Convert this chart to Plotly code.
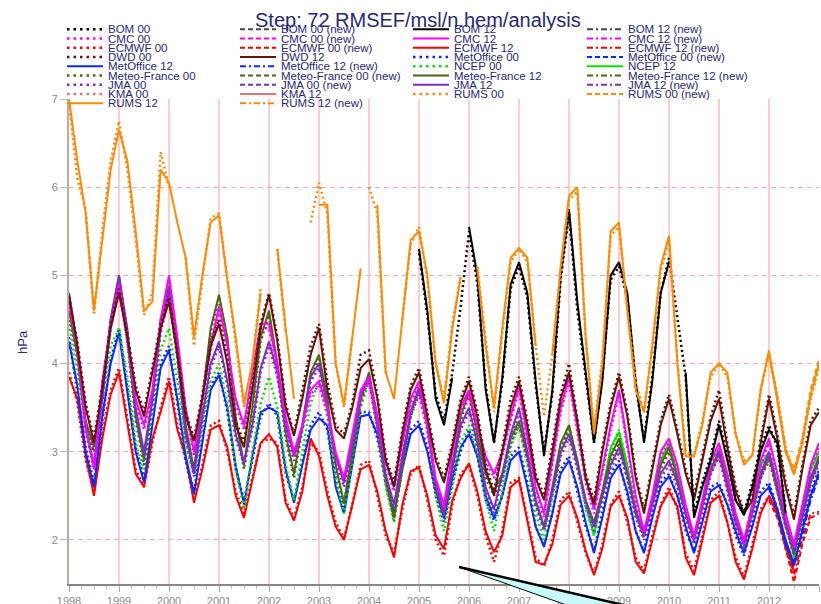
import plotly.graph_objects as go

# ---------------- data: bimonthly samples (Jan, Mar, May, Jul, Sep, Nov), Jan 1998 .. Jan 2013 ----------------
N = 91
times = [1998 + i / 6 for i in range(N)]
year_ticks = list(range(1998, 2014))
year_labels = [str(y) for y in year_ticks]
y_ticks = [2, 3, 4, 5, 6, 7]

ECMWF_12 = [
    3.85, 3.6, 2.95, 2.5, 3.15, 3.65,
    3.9, 3.3, 2.75, 2.6, 3.15, 3.45,
    3.8, 3.25, 2.95, 2.42, 2.8, 3.25,
    3.3, 3.05, 2.5, 2.25, 2.66, 3.1,
    3.2, 3.05, 2.42, 2.22, 2.55, 3.15,
    2.95, 2.5, 2.15, 2.0, 2.4, 2.8,
    2.85, 2.55, 2.1, 1.8, 2.4, 2.78,
    2.82, 2.5, 2.05, 1.9, 2.45, 2.7,
    2.87, 2.55, 2.1, 1.86, 2.05, 2.6,
    2.68, 2.2, 1.75, 1.72, 1.95, 2.4,
    2.5, 2.25, 1.88, 1.6, 1.9, 2.38,
    2.5, 2.25, 1.75, 1.62, 2.0, 2.38,
    2.55, 2.38, 1.8, 1.6, 2.0, 2.42,
    2.5, 2.2, 1.75, 1.55, 1.9, 2.3,
    2.5, 2.3, 1.95, 1.64, None, None,
    None]
ECMWF_00 = [
    3.9, 3.55, 2.9, 2.55, 3.2, 3.7,
    3.95, 3.35, 2.8, 2.6, 3.1, 3.5,
    3.85, 3.3, 2.9, 2.45, 2.85, 3.3,
    3.35, 3.0, 2.55, 2.3, 2.7, 3.1,
    3.15, 3.1, 2.45, 2.25, 2.6, 3.1,
    3.0, 2.55, 2.2, 2.02, 2.4, 2.85,
    2.9, 2.5, 2.05, 1.85, 2.35, 2.75,
    2.85, 2.45, 2.0, 1.82, 2.4, 2.75,
    2.85, 2.5, 2.05, 1.75, 2.1, 2.65,
    2.7, 2.25, 1.8, 1.7, 2.0, 2.45,
    2.55, 2.2, 1.85, 1.62, 1.95, 2.4,
    2.55, 2.2, 1.8, 1.65, 2.05, 2.4,
    2.6, 2.35, 1.85, 1.65, 2.05, 2.45,
    2.55, 2.2, 1.8, 1.58, 1.95, 2.35,
    2.5, 2.3, 1.9, 1.65, None, None,
    None]
ECMWF_00_NEW = [None] * 84 + [2.45, 2.25, 1.9, 1.52, 1.95, 2.25, 2.3]
ECMWF_12_NEW = [None] * 84 + [2.5, 2.28, 1.92, 1.6, 2.0, 2.3, 2.32]

MO_12 = [
    4.25, 3.75, 3.0, 2.6, 3.4, 4.0,
    4.35, 3.7, 3.0, 2.65, 3.3, 3.95,
    4.15, 3.6, 2.95, 2.52, 3.1, 3.7,
    3.87, 3.5, 2.85, 2.4, 2.95, 3.45,
    3.5, 3.45, 2.8, 2.42, 2.85, 3.25,
    3.38, 3.3, 2.6, 2.3, 2.85, 3.4,
    3.42, 3.2, 2.7, 2.28, 2.8, 3.2,
    3.3, 3.0, 2.55, 2.25, 2.7, 3.05,
    3.2, 2.95, 2.5, 2.25, 2.5, 2.9,
    3.0, 2.6, 2.15, 1.92, 2.3, 2.75,
    2.9, 2.6, 2.2, 1.85, 2.25, 2.7,
    2.85, 2.55, 2.1, 1.85, 2.25, 2.6,
    2.72, 2.5, 2.15, 1.85, 2.2, 2.55,
    2.62, 2.4, 2.1, 1.85, 2.15, 2.5,
    2.6, 2.35, 2.0, 1.72, 2.1, 2.5,
    2.75]
MO_00 = [
    4.3, 3.7, 3.05, 2.65, 3.35, 4.05,
    4.4, 3.75, 3.05, 2.7, 3.35, 4.0,
    4.2, 3.55, 2.9, 2.55, 3.15, 3.75,
    3.9, 3.45, 2.8, 2.45, 2.9, 3.4,
    3.55, 3.4, 2.75, 2.45, 2.9, 3.3,
    3.45, 3.25, 2.65, 2.32, 2.9, 3.45,
    3.45, 3.15, 2.65, 2.3, 2.85, 3.25,
    3.35, 3.05, 2.5, 2.2, 2.65, 3.0,
    3.25, 2.95, 2.45, 2.22, 2.5, 2.95,
    3.05, 2.65, 2.15, 1.95, 2.3, 2.8,
    2.95, 2.55, 2.15, 1.88, 2.3, 2.75,
    2.9, 2.5, 2.1, 1.88, 2.3, 2.65,
    2.75, 2.5, 2.1, 1.88, 2.25, 2.6,
    2.65, 2.4, 2.05, 1.82, 2.2, 2.55,
    2.65, 2.35, 1.95, 1.75, 2.15, 2.55,
    2.8]
MO_00_NEW = [None] * 84 + [2.62, 2.35, 1.98, 1.7, 2.12, 2.5, 2.78]
MO_12_NEW = [None] * 84 + [2.58, 2.32, 1.95, 1.72, 2.05, 2.45, 2.72]

NCEP_00 = [
    4.45, 3.9, 3.3, 3.0, 3.6, 4.2,
    4.4, 3.85, 3.1, 2.8, 3.5, 4.15,
    4.4, 3.8, 3.05, 2.75, 3.3, 3.8,
    4.0, 3.55, 2.8, 2.35, 3.0, 3.55,
    3.85, 3.5, 2.85, 2.45, 3.0, 3.55,
    3.8, 3.4, 2.7, 2.3, 2.9, 3.5,
    3.8, 3.3, 2.6, 2.2, 2.85, 3.45,
    3.75, 3.3, 2.5, 2.1, 2.6, 3.1,
    3.3, 3.0, 2.45, 2.1, 2.55, 3.05,
    3.3, 2.85, 2.3, 2.0, 2.5, 3.0,
    3.3, 2.9, 2.35, 2.05, 2.5, 3.0,
    3.25, 2.85, 2.35, 2.05, 2.45, 2.85,
    3.05, 2.75, 2.3, 2.0, 2.4, 2.85,
    3.0, 2.7, 2.25, 1.95, 2.35, 2.8,
    3.0, 2.65, 2.2, 1.8, 2.3, 2.8,
    3.0]
NCEP_12 = [None] * 62 + [
    2.4, 2.05, 2.55, 3.05,
    3.22, 2.85, 2.3, 2.05, 2.45, 2.9,
    3.1, 2.75, 2.3, 2.0, 2.45, 2.9,
    3.02, 2.75, 2.25, 1.98, 2.4, 2.85,
    3.0, 2.65, 2.2, 1.82, 2.35, 2.8,
    3.0]

DWD_12 = [
    4.78, 4.2, 3.5, 3.1, 3.7, 4.4,
    4.8, 4.3, 3.7, 3.4, 3.9, 4.4,
    4.7, 4.1, 3.4, 3.12, 3.6, 4.2,
    4.45, 4.0, 3.3, 3.05, 3.7, 4.4,
    4.78, 4.25, 3.5, 3.18, 3.6, 4.1,
    4.4, 3.7, 3.25, 3.15, 3.5, 3.95,
    4.05, 3.6, 2.9, 2.6, 3.2, 3.7,
    3.9, 3.4, 2.9, 2.65, 3.05, 3.55,
    3.8, 3.4, 2.8, 2.5, 3.0, 3.5,
    3.8, 3.3, 2.7, 2.45, 3.0, 3.6,
    3.9, 3.35, 2.7, 2.4, 3.0, 3.5,
    3.85, 3.4, 2.7, 2.3, 2.8, 3.3,
    3.6, 3.2, 2.75, 2.45, 2.9, 3.35,
    3.6, 3.05, 2.55, 2.3, 2.45, 3.1,
    3.6, 3.15, 2.6, 2.23, 2.8, 3.3,
    3.45]
DWD_00 = [
    4.75, 4.25, 3.55, 3.15, 3.75, 4.45,
    4.85, 4.35, 3.75, 3.45, 3.95, 4.45,
    4.75, 4.15, 3.45, 3.15, 3.65, 4.25,
    4.5, 4.05, 3.35, 3.1, 3.75, 4.45,
    4.8, 4.3, 3.55, 3.2, 3.7, 4.2,
    4.45, 3.8, 3.3, 3.2, 3.55, 4.1,
    4.15, 3.65, 2.95, 2.65, 3.25, 3.75,
    3.95, 3.45, 2.95, 2.7, 3.1, 3.6,
    3.85, 3.45, 2.85, 2.55, 3.05, 3.6,
    3.85, 3.35, 2.75, 2.5, 3.05, 3.65,
    4.0, 3.4, 2.75, 2.45, 3.05, 3.55,
    3.9, 3.45, 2.75, 2.35, 2.85, 3.35,
    3.65, 3.25, 2.8, 2.5, 2.95, 3.4,
    3.7, 3.1, 2.6, 2.32, 2.5, 3.15,
    3.65, 3.2, 2.65, 2.28, 2.85, 3.35,
    3.5]

MF_12 = [
    4.6, 4.1, 3.35, 3.05, 3.7, 4.5,
    5.0, 4.3, 3.4, 2.9, 3.6, 4.5,
    4.88, 4.2, 3.3, 2.8, 3.6, 4.4,
    4.78, 4.3, 3.4, 2.85, 3.5, 4.3,
    4.6, 4.0, 3.2, 2.75, 3.3, 3.9,
    4.1, 3.6, 2.85, 2.42, 3.0, 3.6,
    3.9, 3.4, 2.7, 2.25, 2.85, 3.45,
    3.72, 3.35, 2.65, 2.3, 2.85, 3.4,
    3.68, 3.2, 2.75, 2.55, 2.75, 3.15,
    3.35, 2.95, 2.45, 2.15, 2.6, 3.1,
    3.3, 2.9, 2.45, 2.2, 2.55, 2.95,
    3.15, 2.75, 2.35, 2.05, 2.45, 2.85,
    3.05, 2.7, 2.3, 2.0, 2.4, 2.8,
    3.0, 2.65, 2.25, 1.95, 2.35, 2.75,
    2.95, 2.6, 2.2, 1.85, 2.3, 2.7,
    2.95]
MF_00 = [
    4.55, 4.05, 3.3, 3.0, 3.65, 4.45,
    4.95, 4.25, 3.35, 2.85, 3.55, 4.45,
    4.85, 4.15, 3.25, 2.75, 3.55, 4.35,
    4.75, 4.25, 3.35, 2.8, 3.45, 4.25,
    4.55, 3.95, 3.15, 2.7, 3.25, 3.85,
    4.05, 3.55, 2.8, 2.4, 2.95, 3.55,
    3.85, 3.35, 2.65, 2.22, 2.8, 3.4,
    3.7, 3.3, 2.6, 2.28, 2.8, 3.35,
    3.65, 3.15, 2.7, 2.5, 2.7, 3.1,
    3.3, 2.9, 2.4, 2.12, 2.55, 3.05,
    3.25, 2.85, 2.4, 2.15, 2.5, 2.9,
    3.1, 2.7, 2.3, 2.02, 2.4, 2.8,
    3.0, 2.65, 2.25, 1.98, 2.35, 2.75,
    2.95, 2.6, 2.2, 1.92, 2.3, 2.7,
    2.9, 2.55, 2.15, 1.82, 2.25, 2.65,
    2.9]

JMA_12 = [
    4.8, 4.2, 3.3, 2.85, 3.6, 4.5,
    5.0, 4.4, 3.5, 3.0, 3.6, 4.4,
    4.83, 4.1, 3.2, 2.75, 3.4, 4.0,
    4.25, 3.8, 3.2, 2.88, 3.3, 3.95,
    4.25, 3.9, 3.3, 2.95, 3.3, 3.85,
    4.0, 3.5, 2.95, 2.65, 3.1, 3.65,
    3.85, 3.3, 2.75, 2.4, 2.95, 3.45,
    3.72, 3.3, 2.65, 2.3, 2.8, 3.3,
    3.5, 3.1, 2.6, 2.35, 2.75, 3.2,
    3.5, 3.0, 2.45, 2.15, 2.55, 3.0,
    3.2, 2.85, 2.45, 2.15, 2.5, 2.85,
    3.05, 2.75, 2.3, 2.05, 2.4, 2.75,
    2.9, 2.65, 2.3, 2.0, 2.4, 2.8,
    3.0, 2.6, 2.2, 1.95, 2.35, 2.75,
    3.0, 2.6, 2.2, 1.9, 2.3, 2.7,
    2.9]
JMA_00 = [
    4.75, 4.15, 3.25, 2.8, 3.55, 4.45,
    4.9, 4.35, 3.45, 2.95, 3.55, 4.35,
    4.75, 4.05, 3.15, 2.72, 3.35, 3.95,
    4.2, 3.75, 3.15, 2.85, 3.25, 3.9,
    4.2, 3.85, 3.25, 2.9, 3.25, 3.8,
    3.95, 3.45, 2.9, 2.6, 3.05, 3.6,
    3.8, 3.25, 2.7, 2.35, 2.9, 3.4,
    3.65, 3.25, 2.6, 2.25, 2.75, 3.25,
    3.45, 3.05, 2.55, 2.3, 2.7, 3.15,
    3.45, 2.95, 2.4, 2.1, 2.5, 2.95,
    3.15, 2.8, 2.4, 2.1, 2.45, 2.8,
    3.0, 2.7, 2.25, 2.0, 2.35, 2.7,
    2.85, 2.6, 2.25, 1.95, 2.35, 2.75,
    2.95, 2.55, 2.15, 1.9, 2.3, 2.7,
    2.95, 2.55, 2.15, 1.85, 2.25, 2.65,
    2.85]

CMC_12 = [
    4.7, 4.2, 3.3, 2.8, 3.8, 4.45,
    4.9, 4.3, 3.6, 3.3, 3.7, 4.5,
    5.0, 4.3, 3.5, 3.0, 3.6, 4.2,
    4.65, 4.2, 3.6, 3.3, 3.9, 4.45,
    4.45, 4.0, 3.4, 3.0, 3.3, 3.7,
    3.8, 3.5, 3.0, 2.7, 3.2, 3.7,
    3.85, 3.4, 2.9, 2.6, 3.1, 3.6,
    3.8, 3.3, 2.7, 2.4, 3.0, 3.5,
    3.7, 3.3, 2.95, 2.75, 3.0, 3.4,
    3.75, 3.2, 2.6, 2.3, 2.9, 3.5,
    3.85, 3.3, 2.7, 2.35, 2.8, 3.3,
    3.7, 3.1, 2.5, 2.1, 2.5, 3.0,
    3.15, 2.85, 2.4, 2.05, 2.45, 2.9,
    3.1, 2.75, 2.3, 2.0, 2.4, 2.9,
    3.15, 2.75, 2.3, 1.95, 2.4, 2.85,
    3.1]
CMC_00 = [
    4.65, 4.15, 3.25, 2.85, 3.75, 4.4,
    4.85, 4.25, 3.55, 3.25, 3.65, 4.45,
    4.95, 4.25, 3.45, 2.95, 3.55, 4.15,
    4.6, 4.15, 3.55, 3.25, 3.85, 4.4,
    4.4, 3.95, 3.35, 2.95, 3.25, 3.65,
    3.75, 3.45, 2.95, 2.65, 3.15, 3.65,
    3.8, 3.35, 2.85, 2.55, 3.05, 3.55,
    3.75, 3.25, 2.65, 2.35, 2.95, 3.45,
    3.65, 3.25, 2.9, 2.7, 2.95, 3.35,
    3.7, 3.15, 2.55, 2.25, 2.85, 3.45,
    3.8, 3.25, 2.65, 2.3, 2.75, 3.25,
    3.65, 3.05, 2.45, 2.05, 2.45, 2.95,
    3.1, 2.8, 2.35, 2.0, 2.4, 2.85,
    3.05, 2.7, 2.25, 1.95, 2.35, 2.85,
    3.1, 2.7, 2.25, 1.9, 2.35, 2.8,
    3.05]

KMA_12 = [None] * 75 + [2.0, 2.35, 2.75,
                        2.95, 2.6, 2.2, 1.95, 2.3, 2.7,
                        2.95, 2.55, 2.15, 1.9, 2.25, 2.65,
                        2.9]
KMA_00 = [None] * 75 + [2.02, 2.38, 2.8,
                        3.0, 2.62, 2.22, 1.98, 2.32, 2.72,
                        2.98, 2.58, 2.18, 1.92, 2.28, 2.7,
                        2.92]

BOM_12 = [None] * 42 + [
    5.3, 4.6, 3.6, 3.3, 3.84, None,
    5.55, 5.0, 3.7, 3.1, 3.84, 4.9,
    5.15, 4.8, 3.8, 2.95, 3.7, 5.0,
    5.75, 4.7, 3.9, 3.1, 3.8, 5.0,
    5.15, 4.8, 3.8, 3.1, 3.8, 4.8,
    5.15, None, 3.9, 2.25, 2.6, 2.9,
    3.3, 2.9, 2.45, 2.28, 2.6, 3.0,
    3.25, 3.1, 2.3, None, None, None,
    None]
BOM_00 = [None] * 42 + [
    5.25, 4.55, 3.65, 3.35, 3.9, 4.65,
    5.5, 4.9, 3.75, 3.1, 3.8, 4.85,
    5.1, 4.75, 3.75, 3.0, 3.65, 4.95,
    5.7, 4.6, 3.85, 3.1, 3.85, 4.95,
    5.1, 4.75, 3.75, 3.15, 3.85, 4.8,
    5.2, 4.55, 3.85, 2.3, 2.65, 2.95,
    3.35, 2.95, 2.45, 2.3, 2.65, 3.05,
    3.3, 3.05, 2.35, None, None, None,
    None]

RUMS_12 = [
    7.0, 6.3, 5.7, 4.6, 5.4, 6.2,
    6.65, 6.3, 5.5, 4.6, 4.7, 6.2,
    6.05, 5.6, 5.2, 4.3, 5.0, 5.6,
    5.68, 4.95, 4.3, 3.55, 4.0, 4.8,
    None, 5.3, 4.4, 3.6, None, None,
    5.8, 5.8, 4.0, 3.53, 4.3, 5.08,
    None, 5.8, 3.9, 3.6, 4.52, 5.4,
    5.5, 5.0, 4.0, 3.55, 4.4, 4.98,
    None, 5.09, 4.2, 3.5, 4.4, 5.2,
    5.31, 5.2, 4.2, None, 4.1, 5.1,
    5.9, 6.0, 4.3, 3.2, 4.0, 5.5,
    5.6, 4.6, 3.7, 3.45, 4.2, 5.1,
    5.45, 4.02, 2.95, 2.95, 3.3, 3.9,
    4.0, 3.9, 3.2, 2.85, 2.96, 3.7,
    4.15, 3.6, 3.0, 2.74, 3.1, 3.65,
    4.0]
RUMS_00 = [
    6.95, 6.1, 5.75, 4.55, 5.5, 6.3,
    6.75, 6.2, 5.4, 4.55, 4.8, 6.4,
    6.0, None, 5.2, 4.2, 4.95, 5.65,
    5.7, 4.95, 4.25, 3.5, 4.0, 4.85,
    None, 5.3, 4.35, None, None, 5.6,
    6.05, 5.7, 4.0, 3.5, 4.3, None,
    6.0, 5.7, 3.9, None, 4.5, 5.35,
    5.55, 4.95, 4.0, 3.6, 4.45, 5.0,
    None, 5.1, 4.25, 3.45, 4.35, 5.15,
    5.3, 5.15, 4.2, 3.4, 4.1, 5.05,
    5.85, 5.95, 4.3, 3.25, 4.05, 5.45,
    5.55, 4.6, 3.8, 3.45, 4.2, 5.05,
    5.4, 4.05, 3.0, 2.95, 3.35, 3.85,
    4.0, 3.85, 3.2, 2.9, 2.95, 3.7,
    4.1, 3.65, 3.05, 2.75, 3.1, 3.6,
    3.95]
RUMS_00_NEW = [None] * 84 + [4.1, 3.6, 3.0, 2.8, 3.15, 3.7, 4.05]
RUMS_12_NEW = [None] * 84 + [4.12, 3.62, 3.02, 2.78, 3.12, 3.62, 3.98]

# ---------------- styles ----------------
C_BOM, C_BOMN = "#000000", "#454545"
C_CMC = "#ff00ff"
C_EC = "#ff0000"
C_DWD = "#661405"
C_MO = "#0a28ff"
C_NCEP = "#00e600"
C_MF = "#4d6614"
C_JMA = "#7a2ec4"
C_KMA = "#e8707a"
C_RUMS = "#ff8a00"
NAVY = "#27277a"

DOT = "2px,3px"
DASH = "5px,3px"
DASHDOT = "6px,3px,2px,3px"

plotted = [
    ("ECMWF 00", ECMWF_00, C_EC, DOT, 2.5),
    ("ECMWF 12", ECMWF_12, C_EC, "solid", 2),
    ("ECMWF 00 (new)", ECMWF_00_NEW, C_EC, DASH, 2),
    ("ECMWF 12 (new)", ECMWF_12_NEW, C_EC, DASHDOT, 2),
    ("MetOffice 00", MO_00, C_MO, DOT, 2.5),
    ("MetOffice 12", MO_12, C_MO, "solid", 2),
    ("MetOffice 00 (new)", MO_00_NEW, C_MO, DASH, 2),
    ("MetOffice 12 (new)", MO_12_NEW, C_MO, DASHDOT, 2),
    ("NCEP 00", NCEP_00, C_NCEP, DOT, 2.5),
    ("NCEP 12", NCEP_12, C_NCEP, "solid", 2),
    ("KMA 00", KMA_00, C_KMA, DOT, 2.5),
    ("KMA 12", KMA_12, C_KMA, "solid", 2),
    ("Meteo-France 00", MF_00, C_MF, DOT, 2.5),
    ("Meteo-France 12", MF_12, C_MF, "solid", 2),
    ("JMA 00", JMA_00, C_JMA, DOT, 2.5),
    ("JMA 12", JMA_12, C_JMA, "solid", 2),
    ("CMC 00", CMC_00, C_CMC, DOT, 2.5),
    ("CMC 12", CMC_12, C_CMC, "solid", 2),
    ("DWD 00", DWD_00, C_DWD, DOT, 2.5),
    ("DWD 12", DWD_12, C_DWD, "solid", 2),
    ("BOM 00", BOM_00, C_BOM, DOT, 2.5),
    ("BOM 12", BOM_12, C_BOM, "solid", 2),
    ("RUMS 00", RUMS_00, C_RUMS, DOT, 2.5),
    ("RUMS 12", RUMS_12, C_RUMS, "solid", 2),
    ("RUMS 00 (new)", RUMS_00_NEW, C_RUMS, DASH, 2),
    ("RUMS 12 (new)", RUMS_12_NEW, C_RUMS, DASHDOT, 2),
]

legend_entries = [
    ("BOM 00", C_BOM, "dot"), ("BOM 00 (new)", C_BOMN, "dash"), ("BOM 12", C_BOM, "solid"), ("BOM 12 (new)", C_BOMN, "dashdot"),
    ("CMC 00", C_CMC, "dot"), ("CMC 00 (new)", C_CMC, "dash"), ("CMC 12", C_CMC, "solid"), ("CMC 12 (new)", C_CMC, "dashdot"),
    ("ECMWF 00", C_EC, "dot"), ("ECMWF 00 (new)", C_EC, "dash"), ("ECMWF 12", C_EC, "solid"), ("ECMWF 12 (new)", C_EC, "dashdot"),
    ("DWD 00", C_DWD, "dot"), ("DWD 12", C_DWD, "solid"), ("MetOffice 00", C_MO, "dot"), ("MetOffice 00 (new)", C_MO, "dash"),
    ("MetOffice 12", C_MO, "solid"), ("MetOffice 12 (new)", C_MO, "dashdot"), ("NCEP 00", C_NCEP, "dot"), ("NCEP 12", C_NCEP, "solid"),
    ("Meteo-France 00", C_MF, "dot"), ("Meteo-France 00 (new)", C_MF, "dash"), ("Meteo-France 12", C_MF, "solid"), ("Meteo-France 12 (new)", C_MF, "dashdot"),
    ("JMA 00", C_JMA, "dot"), ("JMA 00 (new)", C_JMA, "dash"), ("JMA 12", C_JMA, "solid"), ("JMA 12 (new)", C_JMA, "dashdot"),
    ("KMA 00", C_KMA, "dot"), ("KMA 12", C_KMA, "solid"), ("RUMS 00", C_RUMS, "dot"), ("RUMS 00 (new)", C_RUMS, "dash"),
    ("RUMS 12", C_RUMS, "solid"), ("RUMS 12 (new)", C_RUMS, "dashdot"),
]

# ---------------- layout geometry (pixels) ----------------
W, H = 821, 604
PL, PR, PT, PB = 69, 819, 99, 584


def px(x, y):
    return (x - PL) / (PR - PL), (PB - y) / (PB - PT)


fig = go.Figure()
for name, vals, color, dash, width in plotted:
    fig.add_trace(go.Scatter(
        x=times[:len(vals)], y=vals, mode="lines", name=name,
        line=dict(color=color, dash=dash, width=width),
        connectgaps=False, showlegend=False, hoverinfo="skip"))

shapes = []
annotations = []
leg_dash = {"dot": "2.5px,4px", "dash": "5px,3px", "dashdot": "6px,3px,2px,3px", "solid": "solid"}
col_x = [67, 240, 413, 587]
for k, (label, color, dash) in enumerate(legend_entries):
    r, c = divmod(k, 4)
    yy = 29.3 + r * 9.25
    x0, y0 = px(col_x[c], yy)
    x1, _ = px(col_x[c] + 36, yy)
    shapes.append(dict(type="line", xref="paper", yref="paper", x0=x0, x1=x1, y0=y0, y1=y0,
                       line=dict(color=color, width=2.5 if dash == "dot" else 2, dash=leg_dash[dash]),
                       layer="above"))
    tx, ty = px(col_x[c] + 39, yy)
    annotations.append(dict(text=label, xref="paper", yref="paper", x=tx, y=ty,
                            xanchor="left", yanchor="middle", showarrow=False,
                            font=dict(family="Liberation Sans, Arial, sans-serif", size=11.5, color=NAVY)))

# title
tx, ty = px(418, 20)
annotations.append(dict(text="Step: 72 RMSEF/msl/n.hem/analysis", xref="paper", yref="paper",
                        x=tx, y=ty, xanchor="center", yanchor="middle", showarrow=False,
                        font=dict(family="Liberation Sans, Arial, sans-serif", size=20, color=NAVY)))
# y-axis label
tx, ty = px(22, 342)
annotations.append(dict(text="hPa", xref="paper", yref="paper", x=tx, y=ty, textangle=-90,
                        xanchor="center", yanchor="middle", showarrow=False,
                        font=dict(family="Liberation Sans, Arial, sans-serif", size=13, color=NAVY)))

# decorative wedge at bottom
a = px(459, 567)
b = px(632, 607)
c2 = px(572, 607)
shapes.append(dict(type="path", xref="paper", yref="paper",
                   path=f"M {a[0]},{a[1]} L {b[0]},{b[1]} L {c2[0]},{c2[1]} Z",
                   fillcolor="#c8fafa", line=dict(color="#000000", width=1), layer="above"))
shapes.append(dict(type="line", xref="paper", yref="paper", x0=a[0], y0=a[1], x1=b[0], y1=b[1],
                   line=dict(color="#000000", width=2.5), layer="above"))

fig.update_layout(
    width=W, height=H,
    margin=dict(l=PL, r=W - PR, t=PT, b=H - PB, pad=0),
    paper_bgcolor="white", plot_bgcolor="white",
    shapes=shapes, annotations=annotations,
    showlegend=False,
    xaxis=dict(range=[1998, 2013], tickvals=year_ticks, ticktext=year_labels,
               showgrid=True, gridcolor="#f9cdd2", gridwidth=1.5, zeroline=False,
               showline=True, linecolor="#8f8682", linewidth=2,
               ticks="outside", ticklen=6, tickcolor="#aaaaaa",
               minor=dict(dtick=0.25, tick0=1998, ticks="outside", ticklen=3, tickcolor="#bbbbbb", showgrid=False),
               tickfont=dict(family="Liberation Sans, Arial, sans-serif", size=11, color="#8a8a8a"),
               automargin=False),
    yaxis=dict(range=[1.5, 7.0], tickvals=y_ticks, ticktext=[str(v) for v in y_ticks],
               showgrid=True, gridcolor="#f3aab3", gridwidth=1, griddash="5px,4px", zeroline=False,
               showline=True, linecolor="#bcaaa8", linewidth=2,
               ticks="outside", ticklen=7, tickcolor="#bbbbbb",
               tickfont=dict(family="Liberation Sans, Arial, sans-serif", size=11, color="#8a8a8a"),
               automargin=False),
)

fig.write_html("out.html")
